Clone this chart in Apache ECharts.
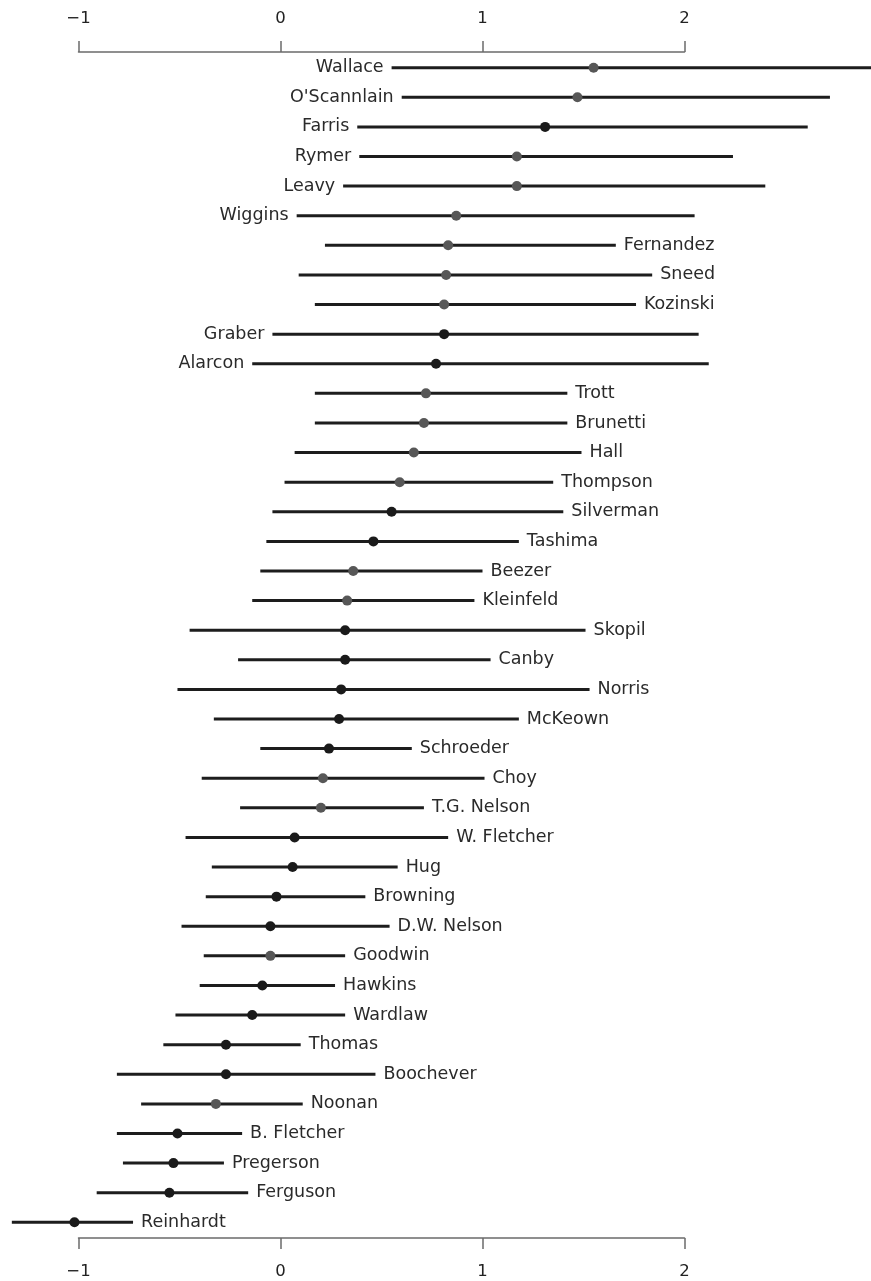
<!DOCTYPE html>
<html>
<head>
<meta charset="utf-8">
<script src="https://cdn.jsdelivr.net/npm/echarts@6/dist/echarts.min.js"></script>
<style>
    html, body { margin: 0; padding: 0; background: #fff; }
    #chart { width: 871px; height: 1281px; }
</style>
</head>
<body>
<div id="chart"></div>
<script>
const judges = [
    "Wallace", "O'Scannlain", "Farris", "Rymer", "Leavy", "Wiggins", "Fernandez", "Sneed",
    "Kozinski", "Graber", "Alarcon", "Trott", "Brunetti", "Hall", "Thompson", "Silverman",
    "Tashima", "Beezer", "Kleinfeld", "Skopil", "Canby", "Norris", "McKeown", "Schroeder",
    "Choy", "T.G. Nelson", "W. Fletcher", "Hug", "Browning", "D.W. Nelson", "Goodwin",
    "Hawkins", "Wardlaw", "Thomas", "Boochever", "Noonan", "B. Fletcher", "Pregerson",
    "Ferguson", "Reinhardt"
];

const lower = [
    0.55, 0.60, 0.38, 0.39, 0.31, 0.08, 0.22, 0.09, 0.17, -0.04,
    -0.14, 0.17, 0.17, 0.07, 0.02, -0.04, -0.07, -0.10, -0.14, -0.45,
    -0.21, -0.51, -0.33, -0.10, -0.39, -0.20, -0.47, -0.34, -0.37, -0.49,
    -0.38, -0.40, -0.52, -0.58, -0.81, -0.69, -0.81, -0.78, -0.91, -1.33
];

const estimate = [
    1.55, 1.47, 1.31, 1.17, 1.17, 0.87, 0.83, 0.82, 0.81, 0.81,
    0.77, 0.72, 0.71, 0.66, 0.59, 0.55, 0.46, 0.36, 0.33, 0.32,
    0.32, 0.30, 0.29, 0.24, 0.21, 0.20, 0.07, 0.06, -0.02, -0.05,
    -0.05, -0.09, -0.14, -0.27, -0.27, -0.32, -0.51, -0.53, -0.55, -1.02
];

const upper = [
    2.95, 2.72, 2.61, 2.24, 2.40, 2.05, 1.66, 1.84, 1.76, 2.07,
    2.12, 1.42, 1.42, 1.49, 1.35, 1.40, 1.18, 1.00, 0.96, 1.51,
    1.04, 1.53, 1.18, 0.65, 1.01, 0.71, 0.83, 0.58, 0.42, 0.54,
    0.32, 0.27, 0.32, 0.10, 0.47, 0.11, -0.19, -0.28, -0.16, -0.73
];

// appointing party: R = grey dot, D = black dot
const appointedBy = [
    "R", "R", "D", "R", "R", "R", "R", "R", "R", "D",
    "D", "R", "R", "R", "R", "D", "D", "R", "R", "D",
    "D", "D", "D", "D", "R", "R", "D", "D", "D", "D",
    "R", "D", "D", "D", "D", "R", "D", "D", "D", "D"
];

const xTicks = [-1, 0, 1, 2];

const rows = judges.map((name, i) => [lower[i], estimate[i], upper[i], i]);

function renderItem(params, api) {
    const i = api.value(3);
    const lo = api.coord([api.value(0), i]);
    const mid = api.coord([api.value(1), i]);
    const hi = api.coord([api.value(2), i]);
    const onLeft = api.value(2) > 1.9;
    const dot = appointedBy[params.dataIndex] === "R" ? "#575757" : "#1a1a1a";

    return {
        type: "group",
        children: [
            {
                type: "line",
                shape: { x1: lo[0], y1: lo[1], x2: hi[0], y2: hi[1] },
                style: { stroke: "#1d1d1d", lineWidth: 3 }
            },
            {
                type: "circle",
                shape: { cx: mid[0], cy: mid[1], r: 5 },
                style: { fill: dot }
            },
            {
                type: "text",
                style: {
                    text: judges[params.dataIndex],
                    x: onLeft ? lo[0] - 8 : hi[0] + 8,
                    y: lo[1],
                    align: onLeft ? "right" : "left",
                    verticalAlign: "middle",
                    fill: "#2a2a2a",
                    fontSize: 17.5,
                    fontFamily: "DejaVu Sans"
                }
            }
        ]
    };
}

function makeXAxis(position) {
    return {
        type: "value",
        position: position,
        min: xTicks[0],
        max: xTicks[xTicks.length - 1],
        interval: 1,
        axisLine: { show: true, onZero: false, lineStyle: { color: "#6b6b6b", width: 1.5 } },
        axisTick: { show: true, length: 11, lineStyle: { color: "#6b6b6b", width: 1.5 } },
        axisLabel: {
            margin: 25,
            color: "#222",
            fontSize: 16.5,
            fontFamily: "DejaVu Sans",
            formatter: v => String(v).replace("-", "\u2212")
        },
        splitLine: { show: false }
    };
}

const chart = echarts.init(document.getElementById("chart"));

chart.setOption({
    animation: false,
    grid: { left: 78.5, right: 186.5, top: 52, bottom: 43 },
    xAxis: [makeXAxis("top"), makeXAxis("bottom")],
    yAxis: {
        type: "value",
        inverse: true,
        min: -0.53,
        max: 39.53,
        show: false
    },
    series: [
        {
            type: "custom",
            xAxisIndex: 0,
            renderItem: renderItem,
            clip: false,
            data: rows
        }
    ]
});
</script>
</body>
</html>
